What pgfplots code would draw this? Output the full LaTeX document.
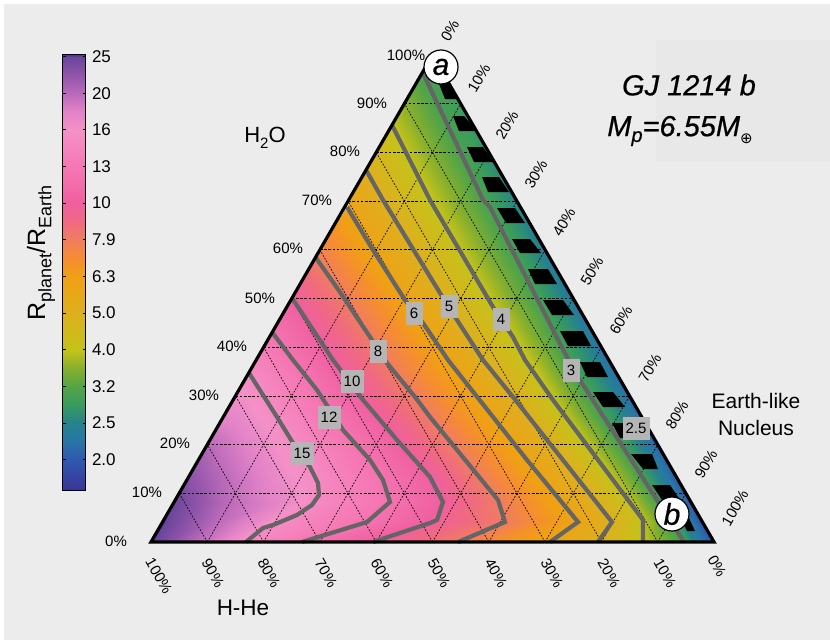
\documentclass[border=0pt]{standalone}
\usepackage{fontspec}
\setmainfont{Liberation Sans}
\newfontfamily\symfont{DejaVu Sans}
\usepackage{pgfplots}
\pgfplotsset{compat=1.18}
\definecolor{bgc}{RGB}{236,236,236}
\definecolor{bgd}{RGB}{232,232,232}
\definecolor{cont}{RGB}{101,101,101}
\definecolor{lab}{RGB}{181,181,181}
\newcommand{\fs}[1]{\fontsize{#1}{#1}\selectfont}
\newcommand{\fat}{\addfontfeature{FakeBold=0.6}}
\pgfplotsset{
  colormap={radius}{
    rgb255(215pt)=(58,52,150);
    rgb255(300pt)=(48,88,175);
    rgb255(350pt)=(40,118,165);
    rgb255(400pt)=(38,130,140);
    rgb255(450pt)=(55,155,95);
    rgb255(500pt)=(85,165,70);
    rgb255(550pt)=(135,175,45);
    rgb255(600pt)=(196,195,25);
    rgb255(700pt)=(222,175,30);
    rgb255(800pt)=(240,160,20);
    rgb255(850pt)=(246,140,50);
    rgb255(900pt)=(240,125,95);
    rgb255(950pt)=(240,105,130);
    rgb255(1000pt)=(240,95,160);
    rgb255(1100pt)=(245,120,180);
    rgb255(1200pt)=(245,145,200);
    rgb255(1250pt)=(225,130,200);
    rgb255(1300pt)=(185,105,185);
    rgb255(1350pt)=(145,85,170);
    rgb255(1400pt)=(105,70,155);
    rgb255(1405pt)=(80,55,140);
  }
}
\begin{document}
\begin{tikzpicture}
\begin{axis}[
  width=830pt, height=640pt, scale only axis,
  xmin=0, xmax=830, ymin=0, ymax=640, y dir=reverse,
  hide axis, clip=false,
  point meta min=0.215, point meta max=1.405,
]
\fill[white] (axis cs:0,0) rectangle (axis cs:830,640);
\fill[bgc] (axis cs:4,4) rectangle (axis cs:830,640);
\fill[bgd] (axis cs:656,40) rectangle (axis cs:830,162);

% radius field, one row per height, columns follow the contours
\addplot[surf, shader=interp, mesh/rows=16, mesh/cols=13, point meta={log10(\thisrow{r})}]
table[row sep=crcr]{
x y r\\
432.5 55 3\\ 432.5 55 3\\ 432.5 55 3\\ 432.5 55 3\\ 432.5 55 3\\ 432.5 55 3\\ 432.5 55 3\\ 432.5 55 3\\ 432.5 55 3\\ 432.5 55 3\\ 432.5 55 3\\ 432.5 55 3\\ 432.5 55 3\\
422 73 3\\ 422 73 3\\ 422 73 3\\ 422 73 3\\ 422 73 3\\ 422 73 3\\ 422 73 3\\ 422 73 3\\ 422 73 3\\ 422 73 3\\ 422 73 3\\ 443 73 2.95\\ 443 73 2.95\\
404 104 3.6\\ 404 104 3.6\\ 404 104 3.6\\ 404 104 3.6\\ 404 104 3.6\\ 404 104 3.6\\ 404 104 3.6\\ 404 104 3.6\\ 404 104 3.6\\ 404 104 3.6\\ 439 104 3\\ 461 104 2.85\\ 461 104 2.85\\
392 125 4\\ 392 125 4\\ 392 125 4\\ 392 125 4\\ 392 125 4\\ 392 125 4\\ 392 125 4\\ 392 125 4\\ 392 125 4\\ 392 125 4\\ 449 125 3\\ 473 125 2.8\\ 473 125 2.8\\
366 170 5\\ 366 170 5\\ 366 170 5\\ 366 170 5\\ 366 170 5\\ 366 170 5\\ 366 170 5\\ 366 170 5\\ 366 170 5\\ 415 170 4\\ 472 170 3\\ 499 170 2.6\\ 499 170 2.6\\
347 207 6\\ 347 207 6\\ 347 207 6\\ 347 207 6\\ 347 207 6\\ 347 207 6\\ 347 207 6\\ 347 207 6\\ 387 207 5\\ 435 207 4\\ 490 207 3\\ 520 207 2.5\\ 520 207 2.5\\
315 258 8\\ 315 258 8\\ 315 258 8\\ 315 258 8\\ 315 258 8\\ 315 258 8\\ 315 258 8\\ 378 258 6\\ 418 258 5\\ 464 258 4\\ 516 258 3\\ 543 258 2.5\\ 550 258 2.35\\
292 298 10\\ 292 298 10\\ 292 298 10\\ 292 298 10\\ 292 298 10\\ 292 298 10\\ 344 298 8\\ 406 298 6\\ 443 298 5\\ 488 298 4\\ 537 298 3\\ 564 298 2.5\\ 573 298 2.25\\
272 332 12\\ 272 332 12\\ 272 332 12\\ 272 332 12\\ 272 332 12\\ 315 332 10\\ 367 332 8\\ 429 332 6\\ 465 332 5\\ 510 332 4\\ 554 332 3\\ 582 332 2.5\\ 593 332 2.2\\
249 373 15\\ 249 373 15\\ 249 373 15\\ 249 373 15\\ 303 373 12\\ 343 373 10\\ 395 373 8\\ 458 373 6\\ 494 373 5\\ 537 373 4\\ 575 373 3\\ 603 373 2.5\\ 616 373 2.15\\
223 417 17.5\\ 223 417 17.5\\ 240 417 17\\ 277 417 15\\ 335 417 12\\ 377 417 10\\ 430 417 8\\ 492 417 6\\ 529 417 5\\ 565 417 4\\ 603 417 3\\ 626 417 2.5\\ 642 417 2.1\\
204 450 20.5\\ 210 450 20\\ 262 450 17\\ 298 450 15\\ 361 450 12\\ 406 450 10\\ 457 450 8\\ 519 450 6\\ 555 450 5\\ 590 450 4\\ 624 450 3\\ 643 450 2.5\\ 661 450 2.05\\
187 480 23\\ 222 480 20\\ 275 480 17\\ 316 480 15\\ 383 480 12\\ 434 480 10\\ 481 480 8\\ 543 480 6\\ 579 480 5\\ 613 480 4\\ 644 480 3\\ 660 480 2.5\\ 678 480 2.02\\
174 502 25\\ 225 502 20\\ 285 502 17\\ 314 502 15\\ 390 502 12\\ 443 502 10\\ 499 502 8\\ 561 502 6\\ 596 502 5\\ 630 502 4\\ 658 502 3\\ 673 502 2.5\\ 691 502 2\\
163 522 26\\ 215 522 20\\ 255 522 17\\ 280 522 15\\ 367 522 12\\ 428 522 10\\ 505 522 8\\ 578 522 6\\ 612 522 5\\ 643 522 4\\ 671 522 3\\ 683 522 2.5\\ 702 522 1.98\\
151 542 27\\ 195 542 20\\ 225 542 17\\ 246 542 15\\ 302 542 12\\ 373 542 10\\ 458 542 8\\ 550 542 6\\ 598 542 5\\ 643 542 4\\ 684 542 3\\ 694 542 2.5\\ 714 542 1.95\\
};

% 10% grid
\addplot[black, line width=0.8pt, dash pattern=on 2.6pt off 1.6pt, empty line=jump] table{
x y
179.2 493.3
685.9 493.3

207.3 444.6
657.7 444.6

235.5 395.9
629.6 395.9

263.6 347.2
601.4 347.2

291.8 298.5
573.3 298.5

319.9 249.8
545.1 249.8

348.1 201.1
517 201.1

376.2 152.4
488.8 152.4

404.4 103.7
460.7 103.7
};
\addplot[black, line width=0.7pt, dash pattern=on 1.6pt off 1.6pt, empty line=jump] table{
x y
207.3 542
179.2 493.3

263.6 542
207.3 444.6

319.9 542
235.5 395.9

376.2 542
263.6 347.2

432.5 542
291.8 298.5

488.8 542
319.9 249.8

545.1 542
348.1 201.1

601.4 542
376.2 152.4

657.7 542
404.4 103.7

207.3 542
460.7 103.7

263.6 542
488.8 152.4

319.9 542
517 201.1

376.2 542
545.1 249.8

432.5 542
573.3 298.5

488.8 542
601.4 347.2

545.1 542
629.6 395.9

601.4 542
657.7 444.6

657.7 542
685.9 493.3
};

% unphysical region, black bars along the right edge
\addplot[fill=black, draw=none] coordinates {(439,84)(450,84)(458,99)(445,99)} -- cycle;
\addplot[fill=black, draw=none] coordinates {(453,116)(464,116)(477,131)(459,131)} -- cycle;
\addplot[fill=black, draw=none] coordinates {(467,147)(483,147)(493,162)(474,162)} -- cycle;
\addplot[fill=black, draw=none] coordinates {(482,177)(499,177)(509,192)(488,192)} -- cycle;
\addplot[fill=black, draw=none] coordinates {(497,208)(515,208)(525,223)(506,223)} -- cycle;
\addplot[fill=black, draw=none] coordinates {(512,239)(530,239)(541,253)(520,253)} -- cycle;
\addplot[fill=black, draw=none] coordinates {(528,269)(548,269)(557,284)(535,284)} -- cycle;
\addplot[fill=black, draw=none] coordinates {(543,300)(563,300)(574,315)(552,315)} -- cycle;
\addplot[fill=black, draw=none] coordinates {(560,331)(583,331)(591,346)(568,346)} -- cycle;
\addplot[fill=black, draw=none] coordinates {(580,362)(600,362)(608,377)(587,377)} -- cycle;
\addplot[fill=black, draw=none] coordinates {(593,392)(613,392)(625,407)(603,407)} -- cycle;
\addplot[fill=black, draw=none] coordinates {(612,423)(632,423)(642,438)(620,438)} -- cycle;
\addplot[fill=black, draw=none] coordinates {(631,454)(652,454)(658,469)(643,469)} -- cycle;
\addplot[fill=black, draw=none] coordinates {(652,485)(670,485)(680,500)(662,500)} -- cycle;
\addplot[fill=black, draw=none] coordinates {(680,516)(688,516)(695,531)(687,531)} -- cycle;

% contours
\addplot[cont, line width=4.2pt] coordinates {(249,373)(277,417)(293,443)(310,467)(318,483)(319,495)(312,505)(297,515)(273,525)(263,528)(246,542)};
\addplot[cont, line width=4.2pt] coordinates {(272,332)(293,360)(317,390)(343,430)(370,460)(383,480)(390,502)(367,522)(302,542)};
\addplot[cont, line width=4.2pt] coordinates {(292,298)(333,360)(363,400)(397,440)(430,477)(443,502)(437,520)(430,523)(373,542)};
\addplot[cont, line width=4.2pt] coordinates {(316,258)(340,292)(372,340)(387,363)(415,397)(430,417)(498,500)(505,522)(458,542)};
\addplot[cont, line width=4.2pt] coordinates {(347,207)(373,250)(405,300)(423,323)(448,360)(527,460)(578,522)(550,542)};
\addplot[cont, line width=4.2pt] coordinates {(366,170)(383,200)(440,293)(457,320)(483,360)(513,397)(612,522)(598,542)};
\addplot[cont, line width=4.2pt] coordinates {(392,125)(430,200)(493,307)(513,337)(525,360)(553,400)(643,520)(643,542)};
\addplot[cont, line width=4.2pt] coordinates {(423,73)(483,200)(490,207)(570,363)(580,380)(657,500)(684,542)};

% triangle
\addplot[black, line width=3.2pt, line join=miter] coordinates {(151,542)(714,542)(432.5,55)} -- cycle;

% contour labels
\tikzset{cl/.style={fill=lab, font=\fs{15}, inner sep=0pt, minimum height=23pt, text=black}}
\node[cl, minimum width=23pt] at (axis cs:302,453) {15};
\node[cl, minimum width=23pt] at (axis cs:329,417) {12};
\node[cl, minimum width=23pt] at (axis cs:352,381) {10};
\node[cl, minimum width=17pt] at (axis cs:378,351) {8};
\node[cl, minimum width=17pt] at (axis cs:414,313) {6};
\node[cl, minimum width=17pt] at (axis cs:449,306) {5};
\node[cl, minimum width=17pt] at (axis cs:501,319) {4};
\node[cl, minimum width=17pt] at (axis cs:571,370) {3};
\node[cl, minimum width=27pt] at (axis cs:636,428) {2.5};

% corner circles
\node[circle, draw=black, line width=1.2pt, fill=white, minimum size=34pt, inner sep=0pt, font=\fs{30}\itshape\fat] at (axis cs:441,67) {a};
\node[circle, draw=black, line width=1.2pt, fill=white, minimum size=34pt, inner sep=0pt, font=\fs{30}\itshape\fat] at (axis cs:672,514) {b};

% percent labels
\tikzset{pc/.style={font=\fs{15}, inner sep=0pt}}
\node[pc] at (axis cs:406,55) {100\%};
\node[pc] at (axis cs:372,103) {90\%};
\node[pc] at (axis cs:345,151) {80\%};
\node[pc] at (axis cs:317,200) {70\%};
\node[pc] at (axis cs:288,248) {60\%};
\node[pc] at (axis cs:260,298) {50\%};
\node[pc] at (axis cs:232,346) {40\%};
\node[pc] at (axis cs:204,395) {30\%};
\node[pc] at (axis cs:175,443) {20\%};
\node[pc] at (axis cs:147,492) {10\%};
\node[pc] at (axis cs:116,541) {0\%};
\node[pc, rotate=60] at (axis cs:450,31) {0\%};
\node[pc, rotate=60] at (axis cs:479,78) {10\%};
\node[pc, rotate=60] at (axis cs:507,125) {20\%};
\node[pc, rotate=60] at (axis cs:536,174) {30\%};
\node[pc, rotate=60] at (axis cs:564,222) {40\%};
\node[pc, rotate=60] at (axis cs:592,271) {50\%};
\node[pc, rotate=60] at (axis cs:621,320) {60\%};
\node[pc, rotate=60] at (axis cs:650,368) {70\%};
\node[pc, rotate=60] at (axis cs:677,415) {80\%};
\node[pc, rotate=60] at (axis cs:706,464) {90\%};
\node[pc, rotate=60] at (axis cs:735,508) {100\%};
\node[pc, rotate=-60] at (axis cs:159,576) {100\%};
\node[pc, rotate=-60] at (axis cs:213,573) {90\%};
\node[pc, rotate=-60] at (axis cs:269,573) {80\%};
\node[pc, rotate=-60] at (axis cs:326,573) {70\%};
\node[pc, rotate=-60] at (axis cs:382,573) {60\%};
\node[pc, rotate=-60] at (axis cs:439,573) {50\%};
\node[pc, rotate=-60] at (axis cs:496,573) {40\%};
\node[pc, rotate=-60] at (axis cs:552,573) {30\%};
\node[pc, rotate=-60] at (axis cs:609,573) {20\%};
\node[pc, rotate=-60] at (axis cs:665,573) {10\%};
\node[pc, rotate=-60] at (axis cs:717,566) {0\%};

% titles and corner names
\node[font=\fs{22}, inner sep=0pt] at (axis cs:265,138) {H\raisebox{-0.25em}{\fs{15}2}O};
\node[font=\fs{22.5}, inner sep=0pt] at (axis cs:243,608) {H-He};
\node[font=\fs{21}, align=center, inner sep=0pt] at (axis cs:756,414) {Earth-like\\[6pt]Nucleus};
\node[font=\fs{29}\itshape\fat, inner sep=0pt] at (axis cs:689,85) {GJ 1214 b};
\node[font=\fs{29}\itshape\fat, inner sep=0pt] at (axis cs:680,131) {M\raisebox{-0.2em}{\fs{20}p}=6.55M\raisebox{-0.25em}{\fs{15}\upshape\symfont ⊕}};
\node[font=\fs{25}, rotate=90, inner sep=0pt] at (axis cs:41,253) {R\raisebox{-0.25em}{\fs{18}planet}/R\raisebox{-0.25em}{\fs{18}Earth}};
\end{axis}

% colour scale
\begin{axis}[
  at={(62.5pt,149.3pt)}, anchor=south west,
  width=23pt, height=436pt, scale only axis,
  xmin=0, xmax=1, ymin=0.215, ymax=1.405,
  point meta min=0.215, point meta max=1.405,
  xtick=\empty,
  ytick={0.3,0.4,0.5,0.6,0.7,0.8,0.9,1.0,1.1,1.2,1.3,1.4},
  yticklabels={2.0,2.5,3.2,4.0,5.0,6.3,7.9,10,13,16,20,25},
  yticklabel style={font=\fs{17}, xshift=3pt},
  yticklabel pos=right, ytick pos=both,
  tick align=inside, major tick length=3pt,
  tick style={black, line width=0.8pt},
  axis line style={black, line width=1.2pt},
  axis on top,
]
\addplot[surf, shader=interp, mesh/cols=2, point meta=y] table[row sep=crcr]{
x y\\
0 0.215\\ 1 0.215\\
0 0.3\\ 1 0.3\\
0 0.35\\ 1 0.35\\
0 0.4\\ 1 0.4\\
0 0.45\\ 1 0.45\\
0 0.5\\ 1 0.5\\
0 0.55\\ 1 0.55\\
0 0.6\\ 1 0.6\\
0 0.7\\ 1 0.7\\
0 0.8\\ 1 0.8\\
0 0.85\\ 1 0.85\\
0 0.9\\ 1 0.9\\
0 0.95\\ 1 0.95\\
0 1.0\\ 1 1.0\\
0 1.1\\ 1 1.1\\
0 1.2\\ 1 1.2\\
0 1.25\\ 1 1.25\\
0 1.3\\ 1 1.3\\
0 1.35\\ 1 1.35\\
0 1.4\\ 1 1.4\\
0 1.405\\ 1 1.405\\
};
\end{axis}
\end{tikzpicture}
\end{document}
